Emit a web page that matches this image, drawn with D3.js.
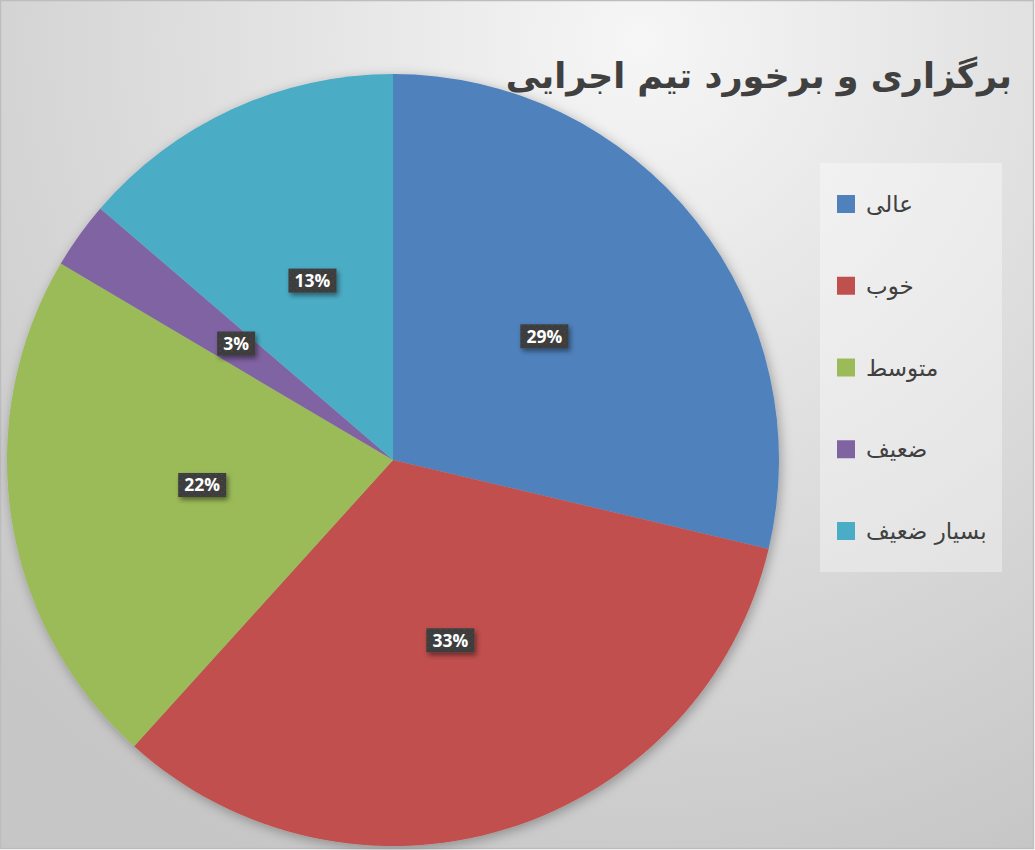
<!DOCTYPE html>
<html><head><meta charset="utf-8">
<script src="https://cdn.jsdelivr.net/npm/d3@7"></script>
<style>html,body{margin:0;padding:0;background:#fff;}svg{display:block;}</style>
</head><body>
<svg id="chart" width="1035" height="850"></svg>
<script>
const categories = ["عالی", "خوب", "متوسط", "ضعیف", "بسیار ضعیف"];
const values = [28.7, 33.0, 21.8, 2.8, 13.7];
const valueLabels = ["29%", "33%", "22%", "3%", "13%"];
const colors = ["#4F81BD", "#C0504D", "#9BBB59", "#8064A2", "#4BACC6"];
const title = "برگزاری و برخورد تیم اجرایی";

const W = 1035, H = 850;
const svg = d3.select("#chart");
const defs = svg.append("defs");

const bg = defs.append("radialGradient").attr("id", "bg")
  .attr("gradientUnits", "userSpaceOnUse")
  .attr("cx", 640).attr("cy", 40).attr("r", 900);
bg.append("stop").attr("offset", "0").attr("stop-color", "#f6f6f6");
bg.append("stop").attr("offset", "1").attr("stop-color", "#c6c6c6");

const sh = defs.append("filter").attr("id", "shadow")
  .attr("x", "-20%").attr("y", "-20%").attr("width", "140%").attr("height", "140%");
sh.append("feDropShadow").attr("dx", 2).attr("dy", 3).attr("stdDeviation", 6)
  .attr("flood-color", "#000").attr("flood-opacity", 0.3);

const lsh = defs.append("filter").attr("id", "lshadow")
  .attr("x", "-30%").attr("y", "-30%").attr("width", "160%").attr("height", "160%");
lsh.append("feDropShadow").attr("dx", 2).attr("dy", 3).attr("stdDeviation", 2.5)
  .attr("flood-color", "#000").attr("flood-opacity", 0.45);

const pat = defs.append("pattern").attr("id", "dots").attr("patternUnits", "userSpaceOnUse")
  .attr("width", 6).attr("height", 6);
pat.append("rect").attr("width", 6).attr("height", 6).attr("fill", "#3d3d3d");
pat.append("rect").attr("x", 1).attr("y", 1).attr("width", 2).attr("height", 1).attr("fill", "#4a4a4a");
pat.append("rect").attr("x", 4).attr("y", 4).attr("width", 1).attr("height", 1).attr("fill", "#484848");

svg.append("rect").attr("x", 0.5).attr("y", 0.5).attr("width", W - 2).attr("height", H - 2)
  .attr("fill", "url(#bg)").attr("stroke", "#bdbdbd").attr("stroke-width", 1.5);

// Pie
const cx = 393, cy = 460, R = 386;
const pie = d3.pie().sort(null).value(d => d)(values);
const arc = d3.arc().innerRadius(0).outerRadius(R);
const labelArc = d3.arc().innerRadius(R / 2).outerRadius(R / 2);
const color = d3.scaleOrdinal().domain(categories).range(colors);

const g = svg.append("g").attr("transform", `translate(${cx},${cy})`);
g.append("g").attr("filter", "url(#shadow)")
  .selectAll("path").data(pie).join("path")
  .attr("d", arc).attr("fill", (d, i) => color(categories[i]));

const lab = g.append("g").selectAll("g").data(pie).join("g")
  .attr("transform", d => { const c = labelArc.centroid(d); return `translate(${c[0]},${c[1] - 4})`; });
const bw = i => valueLabels[i].length * 10 + 18;
lab.append("rect")
  .attr("x", (d, i) => -bw(i) / 2)
  .attr("y", -12)
  .attr("width", (d, i) => bw(i))
  .attr("height", 24)
  .attr("fill", "url(#dots)").attr("filter", "url(#lshadow)");
lab.append("text").attr("text-anchor", "middle").attr("dy", 6.5)
  .attr("font-family", "Open Sans, Liberation Sans, sans-serif")
  .attr("font-weight", "bold").attr("font-size", 17.5).attr("fill", "#fff")
  .text((d, i) => valueLabels[i]);

// Title (drawn above the pie)
svg.append("text").attr("x", 1012).attr("y", 88)
  .attr("text-anchor", "start").attr("direction", "rtl")
  .attr("font-family", "DejaVu Sans, Noto Sans, sans-serif")
  .attr("font-weight", "bold").attr("font-size", 35).attr("fill", "#404040")
  .text(title);

// Legend
const lg = svg.append("g");
lg.append("rect").attr("x", 820).attr("y", 163).attr("width", 182).attr("height", 409)
  .attr("fill", "#ffffff").attr("fill-opacity", 0.35);
const itemY = d3.scalePoint().domain(categories).range([204, 531]);
const items = lg.selectAll("g.item").data(categories).join("g").attr("class", "item")
  .attr("transform", d => `translate(0,${itemY(d)})`);
items.append("rect").attr("x", 837).attr("y", -9).attr("width", 18).attr("height", 18)
  .attr("fill", d => color(d));
items.append("text").attr("x", 866).attr("y", 8).attr("text-anchor", "start")
  .attr("font-family", "DejaVu Sans, Noto Sans, sans-serif")
  .attr("font-size", 23).attr("fill", "#404040")
  .text(d => d);
</script>
</body></html>
